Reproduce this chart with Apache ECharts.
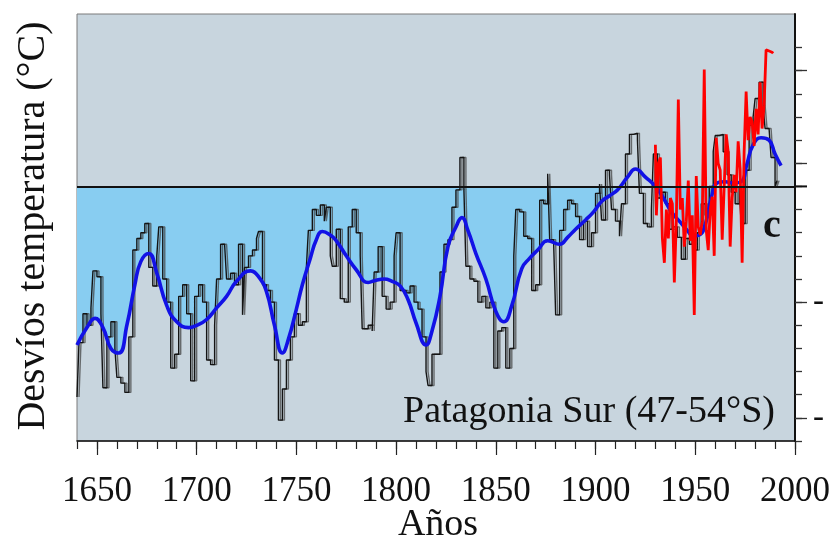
<!DOCTYPE html>
<html>
<head>
<meta charset="utf-8">
<script src="https://cdn.jsdelivr.net/npm/echarts@6/dist/echarts.min.js"></script>
<style>
html,body{margin:0;padding:0;background:#fff;}
#c{width:833px;height:545px;}
</style>
</head>
<body>
<div id="c"></div>
<script>
// ---- Data ----
var xTickYears = [1650, 1700, 1750, 1800, 1850, 1900, 1950, 2000];

// Tree-ring reconstruction (step line)
var blackYears = [1640,1641,1643,1645,1647,1648,1650,1652,1653,1655,1657,1659,1660,1662,1664,1666,1668,1670,1672,1674,1676,1678,1680,1681,1683,1685,1687,1689,1691,1693,1695,1697,1699,1701,1703,1705,1707,1709,1710,1712,1714,1715,1717,1719,1721,1723,1724,1726,1728,1730,1731,1733,1735,1737,1739,1741,1743,1745,1747,1749,1751,1753,1755,1756,1758,1760,1762,1764,1765,1767,1768,1770,1772,1774,1776,1778,1780,1782,1783,1786,1788,1789,1791,1793,1795,1797,1799,1800,1802,1805,1807,1809,1811,1813,1815,1816,1818,1820,1822,1824,1826,1828,1830,1832,1834,1835,1837,1839,1841,1843,1845,1847,1849,1851,1853,1855,1857,1859,1860,1862,1864,1866,1868,1870,1872,1874,1876,1877,1879,1880,1882,1884,1886,1888,1890,1892,1894,1896,1898,1900,1902,1903,1905,1907,1908,1910,1912,1913,1915,1917,1919,1921,1922,1924,1926,1928,1929,1931,1933,1935,1937,1939,1941,1943,1945,1947,1949,1951,1953,1955,1957,1959,1960,1962,1964,1966,1968,1970,1972,1973,1975,1977,1979,1980,1982,1984,1985,1987,1988,1990,1991];
var blackVals  = [-1.82,-1.35,-1.1,-1.2,-1.05,-0.73,-0.78,-1.1,-1.74,-1.3,-1.17,-1.4,-1.65,-1.7,-1.78,-1.3,-0.55,-0.45,-0.4,-0.32,-0.7,-0.86,-0.6,-0.35,-0.8,-1.0,-1.57,-1.45,-0.95,-0.85,-1.1,-1.68,-0.95,-0.85,-1.0,-1.5,-1.54,-1.2,-0.8,-0.5,-0.49,-0.8,-0.75,-0.85,-0.5,-1.11,-0.7,-0.6,-0.55,-0.45,-0.39,-0.85,-0.9,-1.0,-1.5,-2.02,-1.75,-1.5,-1.3,-1.1,-1.2,-1.17,-0.7,-0.38,-0.2,-0.25,-0.16,-0.3,-0.18,-0.6,-0.69,-0.37,-0.97,-1.0,-0.35,-0.2,-0.4,-0.6,-1.23,-1.2,-1.25,-0.74,-0.52,-0.95,-1.06,-1.0,-0.6,-0.4,-0.9,-0.92,-0.86,-1.0,-1.06,-1.3,-1.6,-1.72,-1.45,-1.45,-0.74,-0.5,-0.46,-0.18,-0.03,0.25,-0.03,-0.69,-0.8,-0.82,-1.0,-0.95,-1.05,-1.0,-1.57,-1.25,-1.22,-1.57,-1.4,-0.6,-0.2,-0.22,-0.43,-0.45,-0.9,-0.85,-0.12,-0.15,0.11,-0.46,-0.5,-1.11,-0.38,-0.2,-0.12,-0.15,-0.26,-0.46,-0.3,-0.52,-0.4,-0.06,0.02,-0.29,0.14,0.1,-0.2,-0.3,-0.43,-0.15,0.28,0.45,0.46,0.4,-0.06,-0.32,-0.35,-0.2,0.28,-0.1,-0.05,-0.15,-0.37,-0.35,-0.44,-0.63,-0.45,-0.5,-0.55,-0.4,-0.15,-0.25,0.0,0.3,0.44,0.45,0.3,0.1,-0.05,-0.15,0.0,-0.32,0.14,0.53,0.6,0.76,0.9,0.7,0.5,0.5,0.25,0.0,0.05];

// Smoothed reconstruction (blue)
var blueYears = [1640,1645,1649,1653,1657,1661,1665,1669,1672,1676,1680,1685,1690,1696,1700,1705,1710,1715,1720,1727,1731,1735,1739,1743,1746,1750,1753,1757,1760,1763,1767,1770,1775,1780,1786,1790,1794,1798,1802,1806,1810,1815,1818,1822,1826,1830,1833,1836,1840,1845,1850,1854,1858,1863,1867,1871,1876,1882,1886,1890,1895,1899,1903,1907,1911,1916,1920,1925,1930,1934,1938,1942,1946,1949,1952,1955,1958,1961,1965,1969,1973,1976,1979,1983,1987,1990,1993];
var blueVals  = [-1.37,-1.22,-1.14,-1.22,-1.40,-1.44,-1.2,-0.85,-0.65,-0.58,-0.75,-1.03,-1.17,-1.22,-1.2,-1.15,-1.05,-0.95,-0.82,-0.73,-0.78,-0.91,-1.2,-1.44,-1.32,-1.06,-0.85,-0.62,-0.46,-0.39,-0.42,-0.47,-0.6,-0.72,-0.83,-0.81,-0.80,-0.82,-0.86,-0.98,-1.18,-1.37,-1.25,-0.95,-0.52,-0.35,-0.27,-0.38,-0.58,-0.80,-1.08,-1.17,-1.03,-0.71,-0.62,-0.55,-0.47,-0.50,-0.44,-0.37,-0.29,-0.22,-0.13,-0.08,-0.03,0.08,0.15,0.08,0.0,-0.1,-0.22,-0.3,-0.38,-0.43,-0.42,-0.33,-0.1,0.03,0.04,0.03,0.04,0.2,0.36,0.42,0.40,0.28,0.18];

// Instrumental record (red)
var redYears = [1930,1931,1932,1933,1934,1935,1936,1937,1938,1939,1940,1941,1942,1943,1944,1945,1946,1947,1948,1949,1950,1951,1952,1953,1954,1955,1956,1957,1958,1959,1960,1961,1962,1963,1964,1965,1966,1967,1968,1969,1970,1971,1972,1973,1974,1975,1976,1977,1978,1979,1980,1981,1982,1983,1984,1985,1986,1987,1988,1989];
var redVals  = [0.36,-0.25,0.2,0.25,-0.45,-0.66,-0.2,-0.45,-0.1,-0.15,-0.83,-0.3,0.75,-0.2,-0.1,-0.52,-0.3,0.05,-0.47,-0.25,-1.11,0.09,-0.35,-0.42,-0.3,1.01,-0.38,-0.55,-0.2,-0.09,-0.6,0.42,0.2,0.14,-0.46,0.0,0.45,0.3,-0.52,-0.1,0.1,-0.05,0.39,0.15,-0.66,0.3,0.82,0.4,0.6,0.56,0.35,0.67,0.45,0.9,0.5,0.7,1.18,1.17,1.16,1.15];

var yMin = -2.2, yMax = 1.49;
var yMinorTicks = [-2.2,-2.0,-1.8,-1.6,-1.4,-1.2,-1.0,-0.8,-0.6,-0.4,-0.2,0,0.2,0.4,0.6,0.8,1.0,1.2];
var yMajorTicks = [-2, -1, 0.2, 1];
var yLabelTicks = [-2, -1];

function pairs(xs, ys){ return xs.map(function(x,i){ return [x, ys[i]]; }); }

var serif = '"Liberation Serif","Times New Roman",serif';
var chart = echarts.init(document.getElementById('c'), null, {renderer:'canvas'});

var fillBlue = '#88cdf1';
var option = {
  animation: false,
  backgroundColor: '#ffffff',
  grid: {left: 77, right: 36, top: 14, bottom: 104, show: true,
         backgroundColor: '#c8d5de', borderColor: '#7a7a7a', borderWidth: 1},
  xAxis: [{
    type: 'value', min: 1640, max: 2000, interval: 10, position: 'bottom',
    axisLine: {show: true, onZero: false, lineStyle: {color: '#111', width: 1.5}},
    axisTick: {show: true, inside: false, length: 8, lineStyle: {color: '#222', width: 1.2}},
    splitLine: {show: false},
    axisLabel: {show: false}
  }, {
    type: 'value', min: 1640, max: 2000, position: 'bottom', offset: 0,
    axisLine: {show: false, onZero: false},
    axisTick: {show: true, inside: false, length: 14, lineStyle: {color: '#222', width: 1.2},
               customValues: xTickYears},
    splitLine: {show: false},
    axisLabel: {fontFamily: serif, fontSize: 35, color: '#111', margin: 33,
                customValues: xTickYears, formatter: function(v){ return String(v); }}
  }],
  yAxis: [{
    type: 'value', position: 'right', min: yMin, max: yMax, interval: 0.2,
    axisLine: {show: true, onZero: false, lineStyle: {color: '#111', width: 2}},
    axisTick: {show: true, inside: false, length: 7, lineStyle: {color: '#333', width: 1.3}, customValues: yMinorTicks},
    axisLabel: {show: false},
    splitLine: {show: false}
  }, {
    type: 'value', position: 'right', min: yMin, max: yMax, offset: 0,
    axisLine: {show: false, onZero: false},
    axisTick: {show: true, inside: false, length: 12, lineStyle: {color: '#333', width: 1.3}, customValues: yMajorTicks},
    axisLabel: {show: true, customValues: yLabelTicks, margin: 18, fontFamily: serif,
                fontSize: 33, color: '#111', formatter: function(){ return '-'; }},
    splitLine: {show: false}
  }],
  series: [
    {
      name: 'fill', type: 'line', data: pairs(blueYears, blueVals), smooth: 0.5,
      showSymbol: false, symbol: 'none', z: 1,
      lineStyle: {width: 0, opacity: 0},
      areaStyle: {opacity: 1, origin: 0, color: fillBlue},
      silent: true
    },
    {
      name: 'recon', type: 'line', data: pairs(blackYears, blackVals), step: 'end',
      showSymbol: false, symbol: 'none', z: 3,
      lineStyle: {color: '#141414', width: 1.4, shadowColor: 'rgba(70,70,70,0.75)',
                  shadowBlur: 0, shadowOffsetX: 2, shadowOffsetY: 0}
    },
    {
      name: 'smooth', type: 'line', data: pairs(blueYears, blueVals), smooth: 0.5,
      showSymbol: false, symbol: 'none', z: 4,
      lineStyle: {color: '#1212e6', width: 3.6}
    },
    {
      name: 'instr', type: 'line', data: pairs(redYears, redVals), step: 'middle',
      showSymbol: false, symbol: 'none', z: 5,
      lineStyle: {color: '#ff0000', width: 2.8},
      markLine: {
        silent: true, symbol: 'none', label: {show: false},
        lineStyle: {color: '#111', width: 2, type: 'solid'},
        data: [{yAxis: 0}], z: 6
      }
    }
  ],
  graphic: [
    {id: 'ytitle', type: 'text', x: 33, y: 226, rotation: Math.PI/2,
     style: {text: 'Desvíos temperatura (°C)', font: '40px ' + serif, fill: '#111',
             textAlign: 'center', textVerticalAlign: 'middle'}},
    {id: 'xtitle', type: 'text', x: 438, y: 525,
     style: {text: 'Años', font: '38px ' + serif, fill: '#111',
             textAlign: 'center', textVerticalAlign: 'middle'}},
    {id: 'region', type: 'text', x: 403, y: 412, z: 10,
     style: {text: 'Patagonia Sur (47-54°S)', font: '38px ' + serif, fill: '#111',
             textAlign: 'left', textVerticalAlign: 'middle'}},
    {id: 'panel', type: 'text', x: 772, y: 227, z: 10,
     style: {text: 'c', font: 'bold 40px ' + serif, fill: '#111',
             textAlign: 'center', textVerticalAlign: 'middle'}}
  ]
};
chart.setOption(option);

// Colour only the part of the area that lies below the zero line,
// and let the zero line run a little past the right axis as in the original.
var zeroPx = chart.convertToPixel({yAxisIndex: 0}, 0);
var rightPx = chart.convertToPixel({xAxisIndex: 0}, 2000);
var H = 545;
var f = zeroPx / H;
option.series[0].areaStyle = {
  opacity: 1, origin: 0,
  color: new echarts.graphic.LinearGradient(0, 0, 0, H, [
    {offset: 0, color: 'rgba(136,205,241,0)'},
    {offset: f, color: 'rgba(136,205,241,0)'},
    {offset: f, color: fillBlue},
    {offset: 1, color: fillBlue}
  ], true)
};
option.graphic.push({id: 'zeroExt', type: 'line', z: 10,
  shape: {x1: rightPx, y1: zeroPx, x2: rightPx + 12, y2: zeroPx},
  style: {stroke: '#111', lineWidth: 2}});
chart.setOption(option, true);
</script>
</body>
</html>
